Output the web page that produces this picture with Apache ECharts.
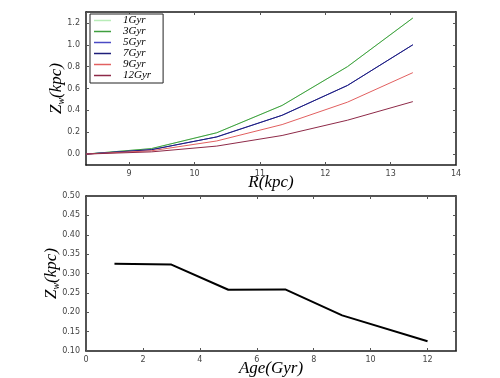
<!DOCTYPE html>
<html><head><meta charset="utf-8">
<script src="https://cdn.jsdelivr.net/npm/echarts@6/dist/echarts.min.js"></script>
<style>html,body{margin:0;padding:0;background:#fff}#c{width:500px;height:378px}</style>
</head><body><div id="c"></div>
<script>
// ---- data ----
const radius = [8.34, 9.34, 10.34, 11.34, 12.34, 13.34];
const age1 = [0, 0.05, 0.195, 0.445, 0.80, 1.245];
const age3 = [0, 0.05, 0.195, 0.445, 0.80, 1.245];
const age5 = [0, 0.04, 0.157, 0.355, 0.628, 1.0];
const age7 = [0, 0.04, 0.157, 0.355, 0.628, 1.0];
const age9 = [0, 0.03, 0.12, 0.27, 0.475, 0.745];
const age12 = [0, 0.02, 0.073, 0.17, 0.31, 0.48];
const seriesNames = ['1Gyr', '3Gyr', '5Gyr', '7Gyr', '9Gyr', '12Gyr'];
const ages = [1, 3, 5, 7, 9, 12];
const zw = [0.325, 0.323, 0.258, 0.259, 0.192, 0.125];

const colors = ['#b8ecb8', '#3f9f3f', '#4a4ac4', '#1e1e7a', '#e26060', '#8e2a48'];
const topData = [age1, age3, age5, age7, age9, age12];

const serif = 'Liberation Serif';
function tickFont() { return { fontFamily: 'DejaVu Sans', fontSize: 8, color: '#444' }; }
function frameLine() { return { show: true, onZero: false, lineStyle: { color: '#1a1a1a', width: 1.5 } }; }
function tick() { return { show: true, inside: true, length: 3, lineStyle: { color: '#555', width: 1 } }; }

function pairs(xs, ys) { return xs.map((x, i) => [x, ys[i]]); }

function zName() {
  return {
    name: '{z|Z}{s|w}{n|(kpc)}',
    nameMoveOverlap: false,
    nameTextStyle: {
      rich: {
        z: { fontFamily: serif, fontStyle: 'italic', fontSize: 17, color: '#000' },
        s: { fontFamily: serif, fontStyle: 'italic', fontSize: 10, color: '#000', padding: [8, 0, 0, 0] },
        n: { fontFamily: serif, fontStyle: 'italic', fontSize: 17, color: '#000' }
      }
    }
  };
}
function xName(t) {
  return { name: t, nameLocation: 'middle', nameMoveOverlap: false,
    nameTextStyle: { fontFamily: serif, fontStyle: 'italic', fontSize: 17, color: '#000' } };
}

const option = {
  animation: false,
  backgroundColor: '#fff',
  grid: [
    { left: 86, top: 12, width: 370, height: 153 },
    { left: 86, top: 196, width: 370, height: 155 }
  ],
  legend: {
    left: 90, top: 14, orient: 'vertical',
    data: seriesNames,
    icon: 'rect', itemWidth: 17, itemHeight: 1.5, itemGap: 0,
    padding: [1, 12, 2, 4],
    borderColor: '#222', borderWidth: 1, backgroundColor: '#fff',
    textStyle: { fontFamily: serif, fontStyle: 'italic', fontSize: 11, lineHeight: 10.5, color: '#000', padding: [0, 0, 0, 7] }
  },
  xAxis: [
    Object.assign({ type: 'value', gridIndex: 0, min: 8.34, max: 14, minInterval: 1, maxInterval: 1,
      axisLine: frameLine(), axisTick: tick(), splitLine: { show: false },
      axisLabel: Object.assign({ margin: 5, showMinLabel: false,
        formatter: v => Number.isInteger(Math.round(v * 1000) / 1000) ? String(Math.round(v)) : '' }, tickFont()),
      nameGap: 9 }, xName('R(kpc)')),
    { type: 'value', gridIndex: 0, position: 'top', min: 8.34, max: 14, minInterval: 1, maxInterval: 1,
      axisLine: frameLine(), axisTick: tick(), axisLabel: { show: false }, splitLine: { show: false } },
    Object.assign({ type: 'value', gridIndex: 1, min: 0, max: 13, interval: 2,
      axisLine: frameLine(), axisTick: tick(), splitLine: { show: false },
      axisLabel: Object.assign({ margin: 5, showMaxLabel: false }, tickFont()),
      nameGap: 9 }, xName('Age(Gyr)')),
    { type: 'value', gridIndex: 1, position: 'top', min: 0, max: 13, interval: 2,
      axisLine: frameLine(), axisTick: tick(), axisLabel: { show: false }, splitLine: { show: false } }
  ],
  yAxis: [
    Object.assign({ type: 'value', gridIndex: 0, min: -0.1, max: 1.3, minInterval: 0.2, maxInterval: 0.2,
      axisLine: frameLine(), axisTick: tick(), splitLine: { show: false },
      axisLabel: Object.assign({ margin: 6, showMinLabel: false, showMaxLabel: false,
        formatter: v => v.toFixed(1) }, tickFont()),
      nameLocation: 'middle', nameGap: 20 }, zName()),
    { type: 'value', gridIndex: 0, position: 'right', min: -0.1, max: 1.3, minInterval: 0.2, maxInterval: 0.2,
      axisLine: frameLine(), axisTick: tick(), axisLabel: { show: false }, splitLine: { show: false } },
    Object.assign({ type: 'value', gridIndex: 1, min: 0.1, max: 0.5, interval: 0.05,
      axisLine: frameLine(), axisTick: tick(), splitLine: { show: false },
      axisLabel: Object.assign({ margin: 6, formatter: v => v.toFixed(2) }, tickFont()),
      nameLocation: 'middle', nameGap: 25 }, zName()),
    { type: 'value', gridIndex: 1, position: 'right', min: 0.1, max: 0.5, interval: 0.05,
      axisLine: frameLine(), axisTick: tick(), axisLabel: { show: false }, splitLine: { show: false } }
  ],
  series: topData.map((d, i) => ({
    name: seriesNames[i], type: 'line', xAxisIndex: 0, yAxisIndex: 0,
    data: pairs(radius, d), showSymbol: false, symbol: 'none',
    lineStyle: { color: colors[i], width: 1 }, itemStyle: { color: colors[i] }
  })).concat([{
    name: 'zw', type: 'line', xAxisIndex: 2, yAxisIndex: 2,
    data: pairs(ages, zw), showSymbol: false, symbol: 'none',
    lineStyle: { color: '#000', width: 2 }, itemStyle: { color: '#000' }
  }])
};
echarts.init(document.getElementById('c')).setOption(option);
</script></body></html>
